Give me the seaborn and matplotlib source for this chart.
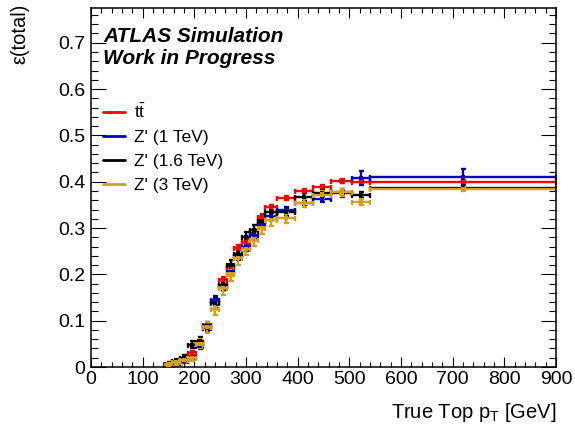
import numpy as np
import pandas as pd
import matplotlib
matplotlib.use("Agg")
import matplotlib.pyplot as plt
from matplotlib.lines import Line2D
from matplotlib.ticker import MultipleLocator, FuncFormatter
import seaborn as sns

# Variable-width truth top pT bins [GeV]
bin_edges = [142.5, 157.5, 172.5, 187.5, 202.5, 217.5, 232.5, 247.5, 262.5, 277.5,
             292.5, 307.5, 322.5, 337.5, 360, 395, 430, 465, 505, 540, 900]

samples = ["tt\u0304", "Z' (1 TeV)", "Z' (1.6 TeV)", "Z' (3 TeV)"]

eff_ttbar = [0.004, 0.008, 0.012, 0.030, 0.052, 0.090, 0.140, 0.188, 0.216, 0.257,
             0.270, 0.290, 0.324, 0.345, 0.365, 0.380, 0.389, 0.402, 0.400, 0.400]
err_ttbar = [0.002, 0.003, 0.003, 0.004, 0.005, 0.006, 0.006, 0.006, 0.006, 0.006,
             0.006, 0.006, 0.006, 0.005, 0.004, 0.004, 0.004, 0.004, 0.004, 0.003]

eff_z1 = [0.003, 0.008, 0.013, 0.022, 0.045, 0.085, 0.145, 0.175, 0.205, 0.240,
          0.260, 0.285, 0.310, 0.325, 0.339, 0.354, 0.363, 0.375, 0.408, 0.410]
err_z1 = [0.003, 0.004, 0.004, 0.006, 0.007, 0.008, 0.009, 0.009, 0.009, 0.009,
          0.009, 0.009, 0.009, 0.008, 0.007, 0.007, 0.007, 0.008, 0.016, 0.018]

eff_z16 = [0.006, 0.012, 0.020, 0.048, 0.055, 0.088, 0.138, 0.178, 0.220, 0.245,
           0.280, 0.295, 0.315, 0.335, 0.335, 0.367, 0.376, 0.378, 0.371, 0.386]
err_z16 = [0.004, 0.005, 0.006, 0.008, 0.009, 0.010, 0.011, 0.011, 0.012, 0.012,
           0.012, 0.012, 0.011, 0.011, 0.009, 0.008, 0.007, 0.006, 0.006, 0.004]

eff_z3 = [0.005, 0.010, 0.015, 0.020, 0.050, 0.086, 0.125, 0.170, 0.200, 0.235,
          0.255, 0.275, 0.300, 0.317, 0.322, 0.354, 0.372, 0.377, 0.356, 0.384]
err_z3 = [0.004, 0.005, 0.006, 0.008, 0.010, 0.012, 0.013, 0.014, 0.014, 0.014,
          0.014, 0.014, 0.013, 0.012, 0.011, 0.009, 0.008, 0.007, 0.007, 0.004]

colors = ["#ff0000", "#0000cc", "#000000", "#d4a017"]

edges = np.asarray(bin_edges)
centers = 0.5 * (edges[1:] + edges[:-1])
half_w = 0.5 * (edges[1:] - edges[:-1])

frames = []
for name, eff, err in zip(samples, [eff_ttbar, eff_z1, eff_z16, eff_z3],
                          [err_ttbar, err_z1, err_z16, err_z3]):
    frames.append(pd.DataFrame({"pt": centers, "xerr": half_w, "eff": eff,
                                "err": err, "sample": name}))
df = pd.concat(frames, ignore_index=True)

sns.set_theme(style="ticks")
plt.rcParams["font.family"] = ["Liberation Sans", "DejaVu Sans"]
plt.rcParams["mathtext.fontset"] = "custom"
plt.rcParams["mathtext.rm"] = "Liberation Sans"
plt.rcParams["mathtext.it"] = "Liberation Sans:italic"
for key in ["text.color", "axes.labelcolor", "xtick.color", "ytick.color",
            "axes.edgecolor"]:
    plt.rcParams[key] = "black"

fig = plt.figure(figsize=(5.75, 4.3), dpi=100)
ax = fig.add_axes([91 / 575, 1 - 367 / 430, 465 / 575, 359 / 430])

palette = dict(zip(samples, colors))
for name in samples:
    d = df[df["sample"] == name]
    ax.errorbar(d["pt"], d["eff"], xerr=d["xerr"], yerr=d["err"], fmt="none",
                ecolor=palette[name], elinewidth=1.7, capsize=1.8, capthick=1.7,
                zorder=2)
sns.scatterplot(data=df, x="pt", y="eff", hue="sample", palette=palette,
                marker="s", s=10, linewidth=0, legend=False, ax=ax, zorder=3)

ax.set_xlim(0, 900)
ax.set_ylim(0, 0.775)
ax.set_xlabel("")
ax.set_ylabel("")

ax.xaxis.set_major_locator(MultipleLocator(100))
ax.xaxis.set_minor_locator(MultipleLocator(20))
ax.yaxis.set_major_locator(MultipleLocator(0.1))
ax.yaxis.set_minor_locator(MultipleLocator(0.02))
ax.yaxis.set_major_formatter(FuncFormatter(lambda v, p: f"{v:g}"))
ax.xaxis.set_major_formatter(FuncFormatter(lambda v, p: f"{v:g}"))

ax.tick_params(axis="both", which="both", direction="in", top=True, right=True,
               labelsize=14, width=0.8, color="black", labelcolor="black")
ax.tick_params(axis="x", which="major", length=7, pad=3)
ax.tick_params(axis="x", which="minor", length=3.6)
ax.tick_params(axis="y", which="major", length=11, pad=4)
ax.tick_params(axis="y", which="minor", length=5)
for sp in ax.spines.values():
    sp.set_linewidth(1.1)
    sp.set_color("black")

handles = [Line2D([0], [0], color=c, lw=2) for c in colors]
ax.legend(handles, [r"$\mathrm{t\bar{t}}$", "Z' (1 TeV)", "Z' (1.6 TeV)", "Z' (3 TeV)"],
          loc="upper left", bbox_to_anchor=(0.01, 0.755), frameon=False,
          fontsize=12.5, handlelength=1.3, handletextpad=0.5, labelspacing=0.5,
          borderaxespad=0, labelcolor="black")

ax.text(0.026, 0.905, "ATLAS Simulation", transform=ax.transAxes, color="black",
        fontsize=15, fontweight="bold", fontstyle="italic", va="baseline")
ax.text(0.026, 0.843, "Work in Progress", transform=ax.transAxes, color="black",
        fontsize=15, fontweight="bold", fontstyle="italic", va="baseline")

fig.text(20 / 575, 1 - 4 / 430, "\u03b5(total)", rotation=90, ha="center",
         va="top", fontsize=14.5, color="black")
fig.text(556 / 575, 1 - 418 / 430, r"True Top p$_{\mathrm{T}}$ [GeV]",
         ha="right", va="baseline", fontsize=14.5, color="black")

fig.savefig("out.png", dpi=100)
